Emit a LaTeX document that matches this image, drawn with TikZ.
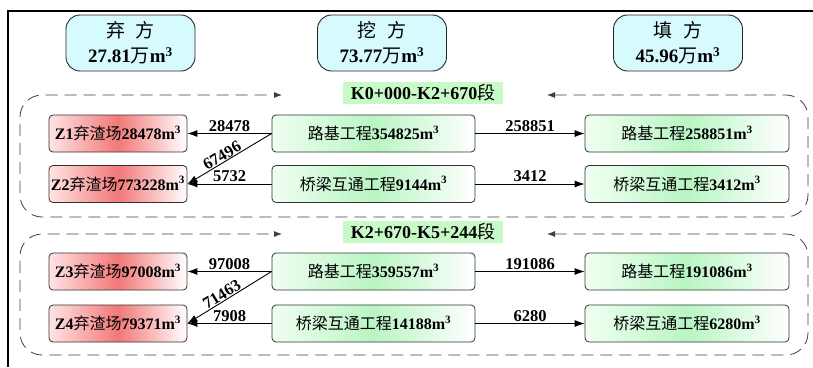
\documentclass[tikz,border=0pt]{standalone}
\usepackage{fontspec}
\setmainfont{Liberation Serif}
\newfontfamily\cjkf{Noto Sans CJK SC}
\usetikzlibrary{arrows.meta}
\newcommand\zhtxt[1]{{\cjkf\mdseries #1}}
\newcommand\msup{m\textsuperscript{3}}
\definecolor{topfill}{RGB}{215,250,255}
\definecolor{secfill}{RGB}{200,250,200}
\definecolor{redl}{RGB}{255,228,228}
\definecolor{redm}{RGB}{242,120,120}
\definecolor{grnl}{RGB}{240,255,242}
\definecolor{grnm}{RGB}{185,245,195}
\tikzset{
  topbox/.style={draw=black!85, line width=0.9pt, rounded corners=14pt, fill=topfill,
    minimum width=129pt, minimum height=56pt, align=center, inner sep=0pt,
    font=\fontsize{19}{25}\selectfont\bfseries},
  abox/.style={draw=black!80, line width=0.8pt, rounded corners=4pt, minimum height=37pt,
    inner sep=0pt, font=\fontsize{16}{18}\selectfont\bfseries},
  redbox/.style={abox, minimum width=138pt, left color=redl, right color=white, middle color=redm},
  grnbox/.style={abox, minimum width=203pt, left color=grnl, right color=white, middle color=grnm},
  seclabel/.style={fill=secfill, font=\fontsize{18}{20}\selectfont\bfseries, inner sep=1pt,
    minimum height=22pt, minimum width=160pt},
  region/.style={draw=black!75, line width=0.8pt, dash pattern=on 12pt off 7pt, rounded corners=22pt},
  rtip/.tip={Latex[length=8pt,width=6pt]},
  flow/.style={draw=black, line width=0.9pt, -{Latex[length=10pt,width=7pt]}},
  num/.style={font=\fontsize{16.5}{18}\selectfont\bfseries, inner sep=1.5pt}
}
\begin{document}
\begin{tikzpicture}[x=1pt, y=-1pt]
\useasboundingbox (0,0) rectangle (813,367);
% frame
\draw[line width=2pt] (8,367) -- (8,11) -- (813,11);
% top boxes
\node[topbox] (qf) at (130.5,43) {\zhtxt{弃\hspace{0.55em}方}\\27.81\zhtxt{万}\msup};
\node[topbox] (wf) at (382,43) {\zhtxt{挖\hspace{0.55em}方}\\73.77\zhtxt{万}\msup};
\node[topbox] (tf) at (678,43) {\zhtxt{填\hspace{0.55em}方}\\45.96\zhtxt{万}\msup};
% section 1
\draw[region, rtip-rtip] (547,95) -- (808,95) -- (808,217) -- (20,217) -- (20,95) -- (282,95);
\node[seclabel] (s1) at (423,93) {K0+000-K2+670\zhtxt{段}};
\node[redbox] (z1) at (118,133.5) {Z1\zhtxt{弃渣场}28478\msup};
\node[redbox] (z2) at (118,184) {Z2\zhtxt{弃渣场}773228\msup};
\node[grnbox] (m1) at (373.5,133.5) {\zhtxt{路基工程}354825\msup};
\node[grnbox] (m2) at (373.5,184) {\zhtxt{桥梁互通工程}9144\msup};
\node[grnbox, minimum width=204pt] (f1) at (687,133.5) {\zhtxt{路基工程}258851\msup};
\node[grnbox, minimum width=204pt] (f2) at (687,184) {\zhtxt{桥梁互通工程}3412\msup};
\draw[flow] (m1) -- node[num,above] {28478} (z1);
\draw[flow] (m1.west) -- node[num,above,sloped,pos=0.55,inner sep=0.5pt] {67496} (z2.east);
\draw[flow] (m2) -- node[num,above] {5732} (z2);
\draw[flow] (m1) -- node[num,above] {258851} (f1);
\draw[flow] (m2) -- node[num,above] {3412} (f2);
% section 2
\draw[region, rtip-rtip] (547,234) -- (808,234) -- (808,355) -- (20,355) -- (20,234) -- (282,234);
\node[seclabel] (s2) at (423,232) {K2+670-K5+244\zhtxt{段}};
\node[redbox] (z3) at (118,271.5) {Z3\zhtxt{弃渣场}97008\msup};
\node[redbox] (z4) at (118,323.5) {Z4\zhtxt{弃渣场}79371\msup};
\node[grnbox] (m3) at (373.5,271.5) {\zhtxt{路基工程}359557\msup};
\node[grnbox] (m4) at (373.5,323.5) {\zhtxt{桥梁互通工程}14188\msup};
\node[grnbox, minimum width=204pt] (f3) at (687,271.5) {\zhtxt{路基工程}191086\msup};
\node[grnbox, minimum width=204pt] (f4) at (687,323.5) {\zhtxt{桥梁互通工程}6280\msup};
\draw[flow] (m3) -- node[num,above] {97008} (z3);
\draw[flow] (m3.west) -- node[num,above,sloped,pos=0.55,inner sep=0.5pt] {71463} (z4.east);
\draw[flow] (m4) -- node[num,above] {7908} (z4);
\draw[flow] (m3) -- node[num,above] {191086} (f3);
\draw[flow] (m4) -- node[num,above] {6280} (f4);
\end{tikzpicture}
\end{document}
